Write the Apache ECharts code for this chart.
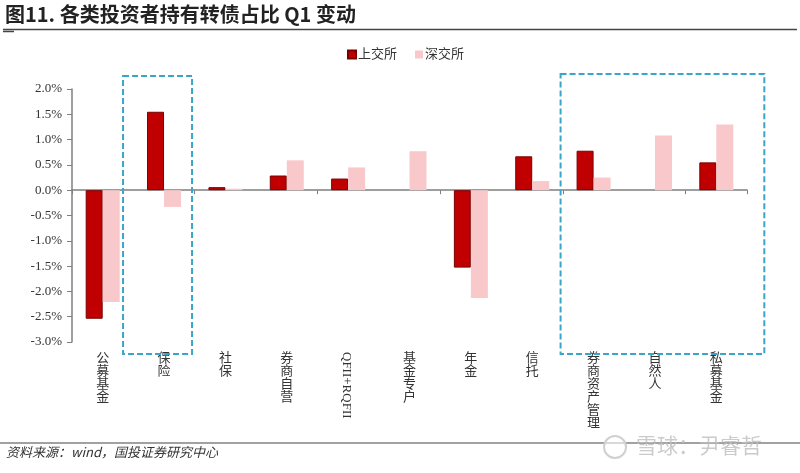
<!DOCTYPE html>
<html>
<head>
<meta charset="utf-8">
<script src="https://cdn.jsdelivr.net/npm/echarts@6/dist/echarts.min.js"></script>
<style>
html,body{margin:0;padding:0;background:#fff;}
#c{width:800px;height:473px;}
</style>
</head>
<body>
<div id="c"></div>
<script>
const categories = ['公募基金','保险','社保','券商自营','QFII+RQFII','基金专户','年金','信托','券商资产管理','自然人','私募基金'];
const sseValues = [-2.54, 1.55, 0.06, 0.29, 0.23, null, -1.53, 0.67, 0.78, null, 0.55];
const szseValues = [-2.21, -0.33, 0.03, 0.59, 0.45, 0.77, -2.13, 0.18, 0.25, 1.08, 1.30];
const seriesNames = ['上交所', '深交所'];
const yTicks = { min: -3, max: 2, interval: 0.5 };

const SERIF = '"Liberation Serif", "Times New Roman", "Noto Sans CJK SC", serif';
const chart = echarts.init(document.getElementById('c'), null, {renderer: 'canvas'});

const option = {
  animation: false,
  backgroundColor: '#fff',
  grid: { left: 72, right: 53, top: 89, bottom: 131, containLabel: false },
  legend: {
    data: seriesNames,
    left: 342, top: 43,
    itemWidth: 8, itemHeight: 8, itemGap: 18,
    icon: 'rect',
    textStyle: { fontFamily: SERIF, fontSize: 13, color: '#333', padding: [0,0,0,-3] }
  },
  xAxis: [{
    type: 'category',
    data: categories,
    axisLine: { onZero: true, lineStyle: { color: '#7f7f7f', width: 1.5 } },
    axisTick: { show: true, length: 4, lineStyle: { color: '#7f7f7f' } },
    axisLabel: { show: false },
    splitLine: { show: false }
  }, {
    type: 'category',
    data: categories,
    position: 'bottom',
    axisLine: { show: false, onZero: false },
    axisTick: { show: false },
    axisLabel: {
      show: true, margin: 10, interval: 0,
      fontFamily: SERIF, fontSize: 13, lineHeight: 13, color: '#333',
      verticalAlign: 'top',
      formatter: function (v) { return /^[A-Za-z]/.test(v) ? '' : v.split('').join('\n'); }
    }
  }],
  yAxis: {
    type: 'value',
    min: yTicks.min, max: yTicks.max, interval: yTicks.interval,
    axisLine: { show: true, lineStyle: { color: '#7f7f7f', width: 1.5 } },
    axisTick: { show: true, length: 5, lineStyle: { color: '#7f7f7f' } },
    splitLine: { show: false },
    axisLabel: {
      margin: 10, fontFamily: SERIF, fontSize: 13, color: '#333',
      formatter: function (v) { return v.toFixed(1) + '%'; }
    }
  },
  series: [{
    name: seriesNames[0], type: 'bar', xAxisIndex: 0,
    data: sseValues,
    barWidth: 17, barGap: '0%',
    itemStyle: { color: '#C00000', borderColor: '#7a0000', borderWidth: 1 }
  }, {
    name: seriesNames[1], type: 'bar', xAxisIndex: 0,
    data: szseValues,
    barWidth: 17, barGap: '0%',
    itemStyle: { color: '#F9C8CB' }
  }]
};
chart.setOption(option);

// annotations computed from the axis scale
const cx = function (name) { return chart.convertToPixel({xAxisIndex: 0}, name); };
const yTop = chart.convertToPixel({yAxisIndex: 0}, yTicks.max);
const yBot = chart.convertToPixel({yAxisIndex: 0}, yTicks.min);
const dash = { stroke: '#3aa5c8', lineWidth: 2, lineDash: [6, 3], fill: null };
const b1l = cx('保险') - 41, b1r = cx('保险') + 28;
const b2l = cx('券商资产管理') - 33, b2r = cx('私募基金') + 48;
const qx = cx('QFII+RQFII');

chart.setOption({
  graphic: [
    { type: 'text', left: 5, top: 4, style: { text: '图11. 各类投资者持有转债占比 Q1 变动', font: 'bold 20px "Noto Sans CJK SC", sans-serif', fill: '#222' } },
    { type: 'line', shape: { x1: 3, y1: 29.5, x2: 797, y2: 29.5 }, style: { stroke: '#444', lineWidth: 1.5 } },
    { type: 'line', shape: { x1: 3, y1: 31.5, x2: 14, y2: 31.5 }, style: { stroke: '#444', lineWidth: 1.5 } },
    { type: 'rect', shape: { x: b1l, y: yTop - 13, width: b1r - b1l, height: (yBot + 12) - (yTop - 13) }, style: dash, z: 10 },
    { type: 'rect', shape: { x: b2l, y: yTop - 15, width: b2r - b2l, height: (yBot + 12) - (yTop - 15) }, style: dash, z: 10 },
    { type: 'text', x: qx - 2, y: yBot + 10, rotation: -Math.PI / 2, style: { text: 'QFII+RQFII', font: '13px ' + SERIF, fill: '#333', textAlign: 'left', textVerticalAlign: 'middle' } },
    { type: 'line', shape: { x1: 0, y1: 443, x2: 800, y2: 443 }, style: { stroke: '#444', lineWidth: 1.2 } },
    { type: 'text', left: 6, top: 446, style: { text: '资料来源：wind，国投证券研究中心', font: 'italic 13px "Noto Sans CJK SC", sans-serif', fill: '#333' } },
    { type: 'circle', shape: { cx: 615, cy: 447, r: 11 }, style: { stroke: '#d0d0d0', lineWidth: 2, fill: 'rgba(255,255,255,0.6)' }, z: 5 },
    { type: 'text', left: 636, top: 435, style: { text: '雪球：尹睿哲', font: '21px "Noto Sans CJK SC", sans-serif', fill: 'rgba(190,190,190,0.8)' }, z: 5 }
  ]
});
</script>
</body>
</html>
